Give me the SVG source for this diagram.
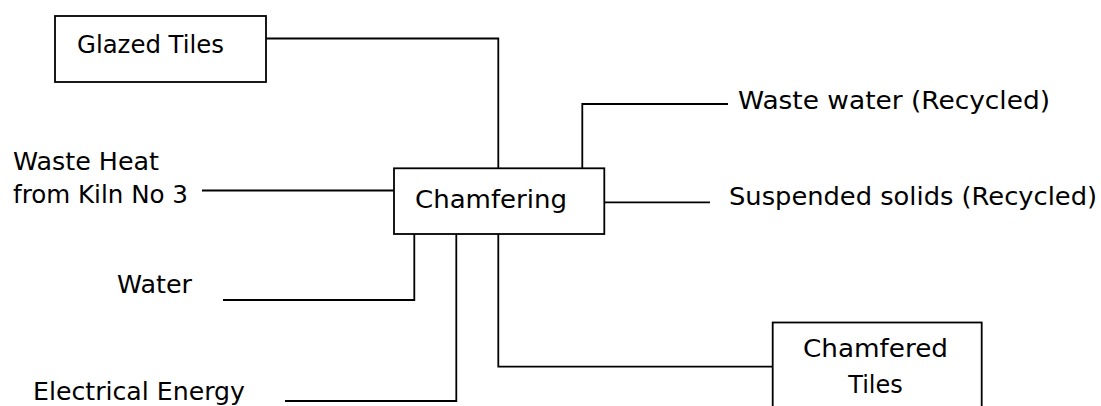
<svg xmlns="http://www.w3.org/2000/svg" width="1101" height="406" viewBox="0 0 1101 406">
<style>
.box{fill:#fff;stroke:#000;stroke-width:1.8}
.ln{fill:none;stroke:#000;stroke-width:1.8}
text{font-family:"DejaVu Sans","Liberation Sans",sans-serif;font-size:24px;fill:#000}
</style>
<rect width="1101" height="406" fill="#fff"/>
<g id="connectors">
<polyline class="ln" points="266,38.5 498.3,38.5 498.3,168.3"/>
<polyline class="ln" points="582.3,168.3 582.3,104 728,104"/>
<line class="ln" x1="604.3" y1="202.3" x2="710" y2="202.3"/>
<line class="ln" x1="202" y1="190.5" x2="394" y2="190.5"/>
<polyline class="ln" points="414.3,234 414.3,300 223,300"/>
<polyline class="ln" points="456.3,234 456.3,401 285,401"/>
<polyline class="ln" points="498.3,234 498.3,366.7 772.7,366.7"/>
</g>
<g id="glazed-tiles">
<rect class="box" x="55" y="16" width="211" height="66"/>
<text x="77" y="53" textLength="147" lengthAdjust="spacingAndGlyphs">Glazed Tiles</text>
</g>
<g id="chamfering">
<rect class="box" x="394" y="168.3" width="210.3" height="65.7"/>
<text x="415" y="208" textLength="152" lengthAdjust="spacingAndGlyphs">Chamfering</text>
</g>
<g id="chamfered-tiles">
<rect class="box" x="772.7" y="322.5" width="209" height="110"/>
<text x="803" y="357" textLength="145" lengthAdjust="spacingAndGlyphs">Chamfered</text>
<text x="875.5" y="393" text-anchor="middle">Tiles</text>
</g>
<g id="waste-heat">
<text x="13" y="170" textLength="146" lengthAdjust="spacingAndGlyphs">Waste Heat</text>
<text x="13" y="203" textLength="175" lengthAdjust="spacingAndGlyphs">from Kiln No 3</text>
</g>
<g id="water">
<text x="117" y="293" textLength="75" lengthAdjust="spacingAndGlyphs">Water</text>
</g>
<g id="electrical-energy">
<text x="33" y="400" textLength="212" lengthAdjust="spacingAndGlyphs">Electrical Energy</text>
</g>
<g id="waste-water">
<text x="738" y="109" textLength="312" lengthAdjust="spacingAndGlyphs">Waste water (Recycled)</text>
</g>
<g id="suspended-solids">
<text x="729" y="205" textLength="368" lengthAdjust="spacingAndGlyphs">Suspended solids (Recycled)</text>
</g>
</svg>
